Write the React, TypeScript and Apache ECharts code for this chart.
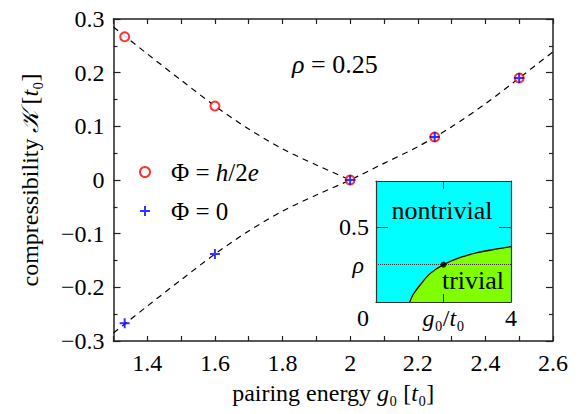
import React, { useEffect, useRef } from 'react';
import * as echarts from 'echarts';

const FONT = 'Liberation Serif';

// main dashed curves
const curveG = [1.3, 1.4, 1.5, 1.6, 1.7, 1.8, 1.9, 2.0, 2.1, 2.2, 2.3, 2.4, 2.5, 2.6];
const curveLowerK = [-0.285, -0.235, -0.186, -0.138, -0.095, -0.058, -0.028, 0, 0.031, 0.062, 0.099, 0.142, 0.19, 0.239];
const curveUpperG = [1.3, 1.4, 1.5, 1.6, 1.7, 1.8, 1.9, 2.0];
const curveUpperK = [0.285, 0.235, 0.186, 0.138, 0.095, 0.058, 0.028, 0];

// data points
const pointG = [1.333, 1.6, 2.0, 2.25, 2.5];
const halfFluxK = [0.267, 0.138, 0, 0.08, 0.19];
const zeroFluxK = [-0.267, -0.138, 0, 0.08, 0.19];

// axis ticks
const xTickLabels = ['1.4', '1.6', '1.8', '2', '2.2', '2.4', '2.6'];

// inset phase diagram
const insetG = [1.0, 1.1, 1.3, 1.6, 2.0, 2.5, 3.0, 3.5, 4.0];
const insetRho = [0, 0.05, 0.112, 0.19, 0.25, 0.298, 0.33, 0.352, 0.37];
const insetPointG = [2];
const insetPointRho = [0.25];
const insetRhoLine = 0.25;

const zip = (a: number[], b: number[]) => a.map((v, i) => [v, b[i]]);

const tok = (size: number, italic = false, extra: any = {}) => ({
  fontFamily: FONT, fontSize: size, fontStyle: italic ? 'italic' : 'normal', color: '#000', ...extra,
});

const makeRich = (size = 24): any => ({
  r: tok(size),
  i: tok(size, true),
  s: tok(size),
  p: tok(size, false, { padding: [0, 0, 0, 8] }),
  z: tok(size, false, { padding: [0, 26, 0, 0] }),
});

const axisColor = '#222';

function buildOption() {
  return {
    animation: false,
    backgroundColor: '#fff',
    textStyle: { fontFamily: FONT },
    grid: [
      { left: 113.5, top: 19, right: 29, bottom: 73 },
      { left: 376, top: 181, width: 135, height: 121, show: true, backgroundColor: '#00ffff', borderWidth: 0 },
    ],
    xAxis: [
      {
        gridIndex: 0, type: 'value', min: 1.3, max: 2.6, interval: 0.1, position: 'bottom',
        axisLine: { show: true, onZero: false, lineStyle: { color: axisColor, width: 1.5 } },
        axisTick: { show: true, inside: true, length: 5, lineStyle: { color: axisColor, width: 1.2 } },
        axisLabel: {
          margin: 10, color: '#000', fontFamily: FONT, fontSize: 24,
          formatter: (v: number) => {
            const t = String(Math.round(v * 10) / 10);
            return xTickLabels.indexOf(t) >= 0 ? t : '';
          },
        },
        splitLine: { show: false },
        name: '{r|pairing energy }{i|g}{s|₀}{r| [}{i|t}{s|₀}{r|]}',
        nameLocation: 'middle', nameGap: 40,
        nameTextStyle: { fontFamily: FONT, fontSize: 24, color: '#000', rich: makeRich() },
      },
      {
        gridIndex: 0, type: 'value', min: 1.3, max: 2.6, interval: 0.1, position: 'top',
        axisLine: { show: true, onZero: false, lineStyle: { color: axisColor, width: 1.5 } },
        axisTick: { show: true, inside: true, length: 5, lineStyle: { color: axisColor, width: 1.2 } },
        axisLabel: { show: false }, splitLine: { show: false },
      },
      {
        gridIndex: 1, type: 'value', min: 0, max: 4, interval: 2, position: 'bottom', z: 5,
        axisLine: { show: true, onZero: false, lineStyle: { color: '#333', width: 1.2 } },
        axisTick: { show: true, inside: true, length: 8, lineStyle: { color: '#333', width: 1 } },
        axisLabel: {
          margin: 4, color: '#000', fontFamily: FONT, fontSize: 24,
          formatter: (v: number) => (v === 0 ? '{z|0}' : v === 2 ? '{i|g}{s|₀}{r|/}{i|t}{s|₀}' : '4'),
          rich: makeRich(),
        },
        splitLine: { show: false },
      },
      {
        gridIndex: 1, type: 'value', min: 0, max: 4, interval: 2, position: 'top', z: 5,
        axisLine: { show: true, onZero: false, lineStyle: { color: '#333', width: 1.2 } },
        axisTick: { show: true, inside: true, length: 8, lineStyle: { color: '#333', width: 1 } },
        axisLabel: { show: false }, splitLine: { show: false },
      },
    ],
    yAxis: [
      {
        gridIndex: 0, type: 'value', min: -0.3, max: 0.3, interval: 0.1, position: 'left',
        axisLine: { show: true, onZero: false, lineStyle: { color: axisColor, width: 1.5 } },
        axisTick: { show: true, inside: true, length: 7, lineStyle: { color: axisColor, width: 1.2 } },
        minorTick: { show: true, splitNumber: 2, length: 4, lineStyle: { color: axisColor, width: 1.2 } },
        axisLabel: {
          margin: 9, color: '#000', fontFamily: FONT, fontSize: 24,
          formatter: (v: number) => {
            const r = Math.round(v * 10) / 10;
            return r < 0 ? '−' + Math.abs(r) : String(r);
          },
        },
        splitLine: { show: false },
        name: '{r|compressibility }{i|𝒦}{r| [}{i|t}{s|₀}{r|]}',
        nameLocation: 'middle', nameGap: 72, nameRotate: 90,
        nameTextStyle: { fontFamily: FONT, fontSize: 24, color: '#000', rich: makeRich() },
      },
      {
        gridIndex: 0, type: 'value', min: -0.3, max: 0.3, interval: 0.1, position: 'right',
        axisLine: { show: true, onZero: false, lineStyle: { color: axisColor, width: 1.5 } },
        axisTick: { show: true, inside: true, length: 7, lineStyle: { color: axisColor, width: 1.2 } },
        minorTick: { show: true, splitNumber: 2, length: 4, lineStyle: { color: axisColor, width: 1.2 } },
        axisLabel: { show: false }, splitLine: { show: false },
      },
      {
        gridIndex: 1, type: 'value', min: 0, max: 0.81, interval: 0.5, position: 'left', z: 5,
        axisLine: { show: true, onZero: false, lineStyle: { color: '#333', width: 1.2 } },
        axisTick: { show: true, inside: true, length: 12, lineStyle: { color: '#333', width: 1 } },
        axisLabel: {
          margin: 7, color: '#000', fontFamily: FONT, fontSize: 24,
          showMaxLabel: false,
          formatter: (v: number) => (Math.abs(v - 0.5) < 1e-6 ? '0.5' : ''),
        },
        splitLine: { show: false },
      },
      {
        gridIndex: 1, type: 'value', min: 0, max: 0.81, interval: 0.5, position: 'right', z: 5,
        axisLine: { show: true, onZero: false, lineStyle: { color: '#333', width: 1.2 } },
        axisTick: { show: true, inside: true, length: 12, lineStyle: { color: '#333', width: 1 } },
        axisLabel: { show: false }, splitLine: { show: false },
      },
    ],
    legend: {
      orient: 'vertical', left: 139, top: 158, itemWidth: 26, itemHeight: 10, itemGap: 11,
      padding: 0, selectedMode: false,
      data: ['Φ = h/2e', 'Φ = 0'],
      formatter: (name: string) => (name === 'Φ = 0' ? '{p|Φ}{r| = 0}' : '{p|Φ}{r| = }{i|h}{r|/2}{i|e}'),
      textStyle: { fontFamily: FONT, fontSize: 25, lineHeight: 28, color: '#000', rich: makeRich(25) },
    },
    graphic: [
      {
        type: 'text', x: 292, y: 64, z: 10,
        style: { text: '{i|ρ}{r| = 0.25}', rich: makeRich(26), fontFamily: FONT, fontSize: 26, fill: '#000', verticalAlign: 'middle' },
      },
      {
        type: 'text', x: 442, y: 210, z: 10,
        style: { text: 'nontrivial', fontFamily: FONT, fontSize: 26, fill: '#000', align: 'center', verticalAlign: 'middle' },
      },
      {
        type: 'text', x: 473, y: 280, z: 10,
        style: { text: 'trivial', fontFamily: FONT, fontSize: 26, fill: '#000', align: 'center', verticalAlign: 'middle' },
      },
    ],
    series: [
      {
        type: 'line', xAxisIndex: 0, yAxisIndex: 0, data: zip(curveUpperG, curveUpperK),
        smooth: 0.3, showSymbol: false, silent: true, z: 1,
        lineStyle: { color: '#000', width: 1.2, type: [6, 5] },
      },
      {
        type: 'line', xAxisIndex: 0, yAxisIndex: 0, data: zip(curveG, curveLowerK),
        smooth: 0.3, showSymbol: false, silent: true, z: 1,
        lineStyle: { color: '#000', width: 1.2, type: [6, 5] },
      },
      {
        name: 'Φ = h/2e', type: 'scatter', xAxisIndex: 0, yAxisIndex: 0, data: zip(pointG, halfFluxK),
        symbol: 'emptyCircle', symbolSize: 9, z: 3,
        itemStyle: { color: '#ff0000', borderColor: '#ff0000', borderWidth: 2 },
      },
      {
        name: 'Φ = 0', type: 'scatter', xAxisIndex: 0, yAxisIndex: 0, data: zip(pointG, zeroFluxK),
        symbol: 'path://M0,4H10V6H0ZM4,0H6V10H4Z', symbolSize: 10, z: 4,
        itemStyle: { color: '#0000ff' },
      },
      {
        type: 'line', xAxisIndex: 2, yAxisIndex: 2, data: zip(insetG, insetRho),
        smooth: 0.3, showSymbol: false, silent: true, z: 2,
        lineStyle: { color: '#000', width: 1.3 },
        areaStyle: { color: '#7fff00', opacity: 1, origin: 'start' },
        markLine: {
          silent: true, symbol: 'none',
          lineStyle: { color: '#333', width: 1, type: 'dotted' },
          label: {
            show: true, position: 'start', distance: 12, formatter: 'ρ',
            fontFamily: FONT, fontSize: 24, fontStyle: 'italic', color: '#000',
          },
          data: [{ yAxis: insetRhoLine }],
        },
      },
      {
        type: 'scatter', xAxisIndex: 2, yAxisIndex: 2, data: zip(insetPointG, insetPointRho),
        symbol: 'circle', symbolSize: 6, z: 6, silent: true,
        itemStyle: { color: '#000' },
      },
    ],
  };
}

export default function App() {
  const ref = useRef<HTMLDivElement>(null);
  useEffect(() => {
    const chart = echarts.init(ref.current!, null, { renderer: 'svg' });
    chart.setOption(buildOption() as any);
    return () => chart.dispose();
  }, []);
  return (
    <div
      ref={ref}
      style={{ position: 'fixed', left: 0, top: 0, width: 582, height: 414, background: '#fff' }}
    />
  );
}
